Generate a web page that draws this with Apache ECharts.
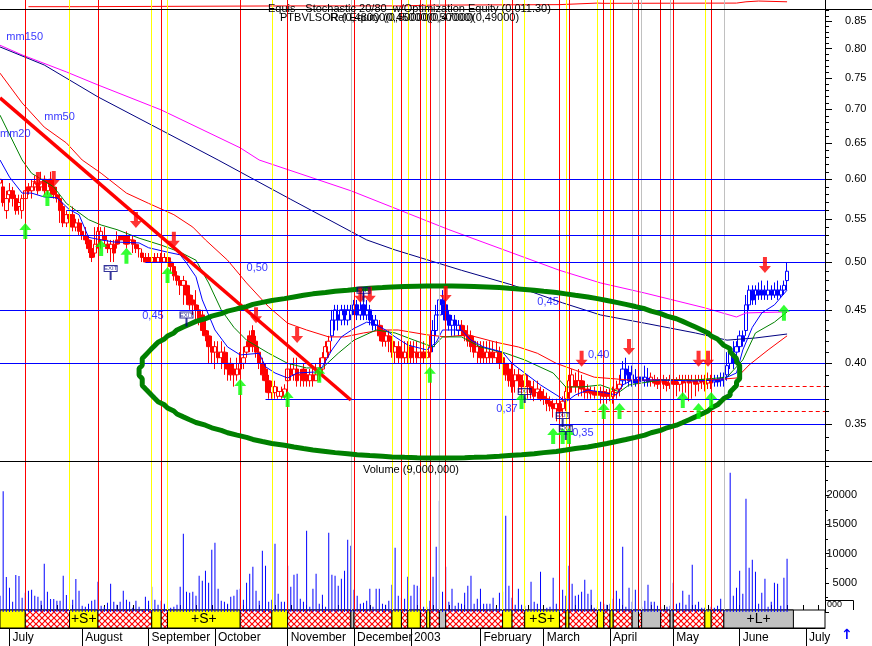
<!DOCTYPE html>
<html><head><meta charset="utf-8">
<script src="https://cdn.jsdelivr.net/npm/echarts@6/dist/echarts.min.js"></script>
<style>html,body{margin:0;padding:0;background:#fff}#c{width:872px;height:646px}</style>
</head><body><div id="c"></div>
<script>
// ---------------- DATA ----------------
const startDate = '2002-06-26';
const dayCount = 262;
const holidays = ['2002-08-15','2002-12-24','2002-12-25','2002-12-26','2002-12-31','2003-01-01','2003-04-18','2003-04-21','2003-05-01'];

const open = [.595,.590,.560,.580,.585,.575,.565,.560,.575,.590,.585,.590,.595,.590,.600,.585,.600,.590,.580,.575,
.565,.545,.555,.555,.540,.545,.535,.530,.525,.515,.510,.520,.525,.530,.520,.515,.520,.525,.530,.530,
.530,.525,.525,.520,.515,.510,.505,.505,.500,.505,.500,.505,.500,.505,.500,.495,.485,.480,.475,.475,
.465,.460,.455,.450,.445,.430,.425,.415,.410,.410,.405,.410,.400,.400,.395,.390,.395,.400,.410,.425,
.430,.420,.410,.400,.395,.385,.375,.375,.372,.372,.372,.385,.395,.390,.395,.390,.395,.390,.385,.390,
.385,.390,.395,.405,.410,.425,.440,.445,.440,.450,.440,.445,.450,.455,.445,.455,.445,.450,.440,.435,
.435,.430,.420,.425,.420,.410,.415,.410,.405,.410,.415,.410,.410,.405,.410,.405,.410,.415,.430,.445,
.460,.455,.445,.435,.440,.430,.435,.430,.425,.425,.420,.410,.415,.410,.405,.410,.410,.405,.410,.405,
.400,.395,.390,.385,.390,.385,.380,.385,.380,.378,.375,.376,.372,.370,.368,.366,.362,.366,.362,.370,
.375,.380,.385,.380,.385,.378,.378,.376,.376,.376,.375,.376,.375,.374,.372,.375,.378,.385,.395,.392,
.385,.386,.384,.388,.385,.387,.385,.386,.385,.384,.386,.384,.383,.386,.384,.382,.385,.384,.386,.384,
.385,.383,.386,.385,.383,.385,.384,.386,.385,.386,.390,.400,.405,.410,.415,.425,.430,.455,.470,.465,
.470,.470,.470,.465,.470,.465,.470,.465,.470,.480];
const close = [.600,.570,.575,.585,.575,.560,.570,.575,.585,.585,.590,.595,.585,.600,.585,.595,.590,.580,.575,.560,
.545,.555,.550,.540,.545,.535,.530,.525,.515,.505,.520,.535,.535,.525,.515,.520,.510,.520,.525,.525,
.520,.525,.520,.515,.515,.505,.500,.500,.505,.500,.505,.500,.505,.500,.495,.485,.480,.475,.480,.465,
.455,.455,.450,.440,.430,.425,.415,.410,.415,.405,.410,.400,.395,.390,.390,.395,.400,.405,.415,.415,
.415,.410,.400,.390,.385,.375,.380,.380,.376,.376,.378,.395,.390,.395,.385,.390,.385,.385,.390,.385,
.390,.395,.405,.415,.420,.440,.450,.440,.450,.445,.450,.450,.455,.445,.450,.445,.450,.440,.435,.440,
.425,.420,.425,.420,.410,.415,.405,.405,.410,.405,.405,.410,.405,.410,.405,.410,.415,.430,.445,.460,
.455,.440,.435,.440,.435,.435,.430,.425,.420,.415,.410,.415,.405,.405,.410,.405,.405,.410,.400,.400,
.390,.385,.380,.390,.385,.380,.390,.380,.375,.372,.378,.370,.370,.366,.364,.362,.366,.360,.368,.376,
.385,.390,.380,.385,.378,.375,.375,.374,.373,.373,.373,.372,.372,.372,.376,.378,.382,.395,.390,.385,
.390,.383,.388,.385,.388,.384,.388,.383,.382,.386,.382,.381,.386,.382,.382,.386,.383,.386,.383,.385,
.382,.386,.384,.382,.386,.383,.386,.384,.387,.388,.398,.410,.400,.415,.425,.420,.455,.470,.460,.470,
.465,.465,.465,.470,.465,.470,.465,.470,.475,.490];
const low = [.585,.565,.550,.570,.565,.555,.555,.550,.570,.580,.575,.585,.580,.585,.580,.580,.580,.575,.570,.545,
.540,.540,.545,.535,.535,.530,.525,.520,.510,.500,.505,.515,.515,.520,.510,.500,.500,.515,.520,.520,
.515,.520,.510,.510,.505,.500,.500,.500,.500,.500,.500,.500,.500,.495,.490,.480,.475,.465,.455,.455,
.450,.445,.440,.435,.425,.420,.400,.400,.395,.400,.395,.390,.385,.385,.380,.385,.390,.395,.405,.410,
.410,.405,.395,.385,.375,.370,.370,.370,.370,.370,.370,.380,.385,.385,.380,.380,.380,.380,.380,.380,
.385,.385,.390,.400,.405,.420,.430,.430,.435,.435,.435,.440,.445,.440,.440,.440,.440,.435,.430,.430,
.420,.415,.415,.410,.405,.400,.400,.400,.400,.400,.400,.400,.400,.400,.400,.400,.405,.410,.425,.440,
.445,.435,.430,.425,.425,.425,.425,.420,.415,.410,.405,.400,.400,.400,.400,.400,.400,.400,.395,.395,
.385,.380,.375,.375,.375,.370,.370,.370,.370,.368,.370,.368,.365,.360,.360,.355,.352,.352,.355,.360,
.370,.375,.375,.372,.372,.370,.370,.370,.370,.370,.366,.366,.366,.368,.366,.370,.372,.380,.382,.380,
.380,.380,.380,.380,.380,.380,.380,.380,.378,.378,.378,.376,.378,.376,.372,.376,.372,.375,.368,.370,
.372,.376,.378,.376,.378,.378,.380,.380,.380,.380,.385,.395,.395,.405,.410,.415,.425,.450,.455,.455,
.460,.460,.460,.460,.460,.462,.460,.462,.465,.470];
const high = [.615,.600,.585,.595,.590,.580,.580,.580,.600,.595,.600,.605,.605,.610,.605,.600,.610,.600,.590,.580,
.570,.560,.560,.565,.550,.550,.545,.540,.530,.525,.540,.540,.540,.540,.525,.525,.525,.535,.530,.530,
.535,.530,.530,.525,.520,.515,.510,.510,.510,.510,.510,.510,.510,.510,.505,.500,.490,.485,.485,.480,
.475,.465,.470,.455,.450,.440,.430,.425,.420,.420,.420,.415,.410,.405,.400,.405,.410,.415,.420,.430,
.435,.425,.415,.405,.400,.390,.385,.385,.380,.380,.382,.400,.400,.405,.405,.395,.400,.395,.395,.395,
.400,.405,.410,.420,.425,.450,.455,.455,.455,.455,.455,.455,.460,.460,.470,.470,.460,.455,.445,.445,
.440,.435,.430,.430,.425,.420,.420,.420,.420,.420,.420,.420,.420,.420,.420,.420,.425,.440,.455,.480,
.470,.460,.450,.445,.445,.440,.440,.435,.435,.430,.425,.420,.420,.420,.420,.420,.420,.420,.415,.410,
.400,.400,.400,.395,.395,.390,.395,.390,.385,.385,.385,.380,.378,.375,.372,.370,.370,.372,.372,.380,
.390,.395,.392,.395,.390,.385,.382,.380,.380,.380,.380,.380,.378,.378,.380,.385,.390,.402,.405,.398,
.398,.395,.405,.395,.398,.396,.392,.390,.388,.392,.390,.388,.390,.390,.388,.390,.390,.390,.390,.390,
.390,.390,.390,.390,.392,.390,.390,.390,.392,.392,.410,.415,.420,.420,.430,.430,.465,.475,.475,.475,
.478,.480,.475,.480,.475,.478,.480,.475,.480,.500];
const volume = [2779,20698,5975,4149,1752,6317,6146,2437,3293,3635,3806,2779,2608,1923,8257,3464,2208,2208,1923,1923,
6203,2893,1409,2094,5633,3635,1067,895,1409,1923,2094,5176,1067,895,1580,4833,1752,1238,1752,3635,
2094,1752,724,1923,895,382,2608,1923,4320,2094,1238,1923,1409,895,724,895,1238,4320,13393,3464,
3293,3464,2779,6203,5347,7059,5004,10654,11852,3977,1923,1752,1409,2608,2779,3806,3977,2094,5004,6545,
7744,3635,1923,10483,7915,1752,2094,11681,3121,1752,1752,7915,4320,6374,6545,2265,1752,13907,895,3977,
6545,1409,2950,895,13564,6374,6203,4491,5689,7059,12366,11339,3806,2779,1409,1580,1923,3977,895,3977,
3977,1409,1238,1923,4662,10996,2779,2437,2265,6031,2779,4662,4491,4149,895,895,1923,6031,11168,19043,
3464,7744,1752,3977,1067,1580,1409,3293,4491,6203,1409,2265,3977,1409,1409,1409,2437,724,3293,3464,
16475,4491,2437,1238,3977,1238,1067,382,5176,1752,1409,6888,382,724,895,5861,1409,1238,3806,2779,
7915,4833,2779,2950,3464,5518,3121,3806,724,895,1752,1409,1238,1409,2265,3635,2265,11168,895,4149,
1752,3806,2608,895,1923,4662,1752,1752,1067,895,382,895,1067,5004,1409,1580,3635,1238,2950,8086,
1238,1752,724,724,382,895,724,1067,2265,382,382,23836,2779,4149,7059,3121,19385,7572,8942,6888,
1409,3293,5689,895,1752,5004,4833,1067,5861,9113];
const blueSpans = [[105,119],[137,145],[197,205],[226,249]];

const maShort = [[0,.626],[3,.603],[7,.582],[10,.582],[14,.577],[18,.576],[22,.561],[25,.555],[28,.528],[32,.525],[36,.5226],[44,.5215],[47,.516],[53,.511],[57,.508],[59,.499],[62,.484],[64,.46],[68,.4305],[72,.4147],[76,.4075],[82,.409],[84,.397],[87,.3916],[91,.3873],[94,.3916],[100,.3925],[102,.397],[105,.412],[108,.424],[112,.432],[116,.438],[118,.437],[122,.4305],[125,.424],[129,.4165],[135,.412],[138,.419],[140,.4305],[146,.4305],[149,.421],[153,.4147],[159,.41],[162,.40],[166,.3916],[171,.3814],[177,.3715],[179,.3674],[182,.3731],[186,.3772],[190,.3756],[195,.3731],[197,.3814],[200,.3856],[209,.3856],[220,.3848],[228,.3856],[233,.3916],[235,.412],[238,.433],[241,.447],[245,.455],[249,.47]];
const ma20 = [[0,.691],[7,.626],[10,.608],[17,.59],[21,.569],[28,.549],[32,.5425],[37,.537],[44,.527],[51,.519],[57,.511],[62,.502],[66,.4775],[70,.45],[74,.433],[78,.421],[85,.409],[91,.40],[97,.396],[102,.396],[107,.409],[112,.421],[119,.4305],[125,.4277],[131,.421],[137,.4147],[140,.424],[146,.424],[152,.4147],[160,.409],[166,.403],[175,.3916],[179,.3797],[184,.3797],[190,.3814],[196,.3756],[199,.3814],[209,.3856],[220,.3856],[230,.388],[235,.403],[239,.4277],[245,.438],[249,.448]];
const ma50 = [[0,.758],[7,.7098],[14,.673],[21,.65],[26,.626],[32,.608],[40,.582],[47,.569],[55,.555],[61,.54],[65,.525],[72,.502],[78,.4775],[85,.453],[91,.437],[97,.4305],[104,.424],[109,.424],[115,.4277],[121,.4305],[126,.4305],[135,.426],[141,.424],[148,.426],[157,.419],[164,.4147],[170,.409],[176,.40],[182,.394],[188,.388],[199,.3856],[209,.3856],[225,.3856],[233,.3873],[237,.3986],[243,.412],[249,.425]];
const ma150 = [[0,.803],[14,.7717],[31,.7193],[48,.676],[69,.626],[92,.574],[116,.525],[125,.5135],[146,.491],[162,.4754],[178,.457],[190,.445],[204,.437],[220,.4277],[230,.421],[239,.423],[249,.4267]];
const ma200 = [[0,.806],[7,.789],[21,.76],[31,.7385],[51,.699],[76,.643],[82,.626],[111,.585],[142,.537],[177,.491],[190,.4775],[204,.467],[223,.452],[233,.443],[236,.447],[249,.448]];
const equity = [[9,1.06],[25,1.09],[91,1.09],[127,1.12],[136,1.14],[177,1.20],[189,1.19],[191,1.20],[233,1.25],[236,1.28],[240,1.25],[249,1.25]];

const redLines = [8,31,51,76,91,112,127,133,136,141,162,177,180,191,194,202,209,213,225];
const yellowLines = [22,48,53,86,124,129,135,159,166,179,189,193,223];
const grayLines = [111,139,200,203,212,229];
const stripEnd = 251;

const buyArrows = [[7.9,.545],[14.9,.586],[31.6,.525],[39.9,.516],[53.1,.4946],[76.2,.3865],[91.1,.3764],[100.9,.397],[136.3,.397],[164.8,.3747],[174.9,.3469],[178.1,.3469],[180.3,.3469],[191.4,.3666],[196.1,.3666],[216.1,.3756],[221.1,.3666],[225.2,.3756],[248,.455]];
const sellArrows = [[12,.5886],[16.8,.590],[43.3,.539],[54.7,.516],[80.7,.437],[94.3,.4184],[113.6,.457],[117,.457],[141.4,.458],[184.4,.397],[198.7,.4075],[220.5,.397],[224,.397],[241.7,.488]];
const exitFlags = [[35.1,.493],[59.2,.445],[114.5,.470],[166.4,.376],[177.5,.3566],[179,.3466]];

const levelPrices = [0.60,0.56,0.53,0.50,0.45,0.40,0.37,0.35];
const levelFrom   = [0,21,0,46,0,0,84,174];
const stopPrices = [0.38,0.36];
const stopFrom   = [234,185];
const trendLine = [[0,.7177],[111.4,.369]];
const ellipseCenter = [139.2,.3925];
const ellipseRadius = [94.9,.1894];

const noteText  = ['0,50','0,45','0,45','0,40','0,37','0,35','mm150','mm50','mm20'];
const noteIdx   = [77.5,45.2,170.2,185.7,156.6,181,1.6,13.6,0];
const notePrice = [.4935,.444,.458,.4075,.3618,.3431,.8208,.688,.663];

const priceLabels = [0.35,0.40,0.45,0.50,0.55,0.60,0.65,0.70,0.75,0.80,0.85];
const volumeLabels = [5000,10000,15000,20000];
const monthNames = ['','January','February','March','April','May','June','July','August','September','October','November','December'];

// ---------------- BUILD ----------------
const L = Math.log;
function buildDays(){
  const out=[]; const d=new Date(startDate+'T00:00:00Z');
  while(out.length<dayCount){
    const wd=d.getUTCDay(); const s=d.toISOString().slice(0,10);
    if(wd!==0&&wd!==6&&holidays.indexOf(s)<0) out.push(s);
    d.setUTCDate(d.getUTCDate()+1);
  }
  return out;
}
const days = buildDays();
const monthStart = i => i>0 && days[i].slice(5,7)!==days[i-1].slice(5,7);
const weekStart = i => i>0 && new Date(days[i]).getUTCDay() < new Date(days[i-1]).getUTCDay();
const isBlue = i => blueSpans.some(s=>i>=s[0]&&i<=s[1]);
function candles(blue){
  const out=[];
  for(let i=0;i<open.length;i++) if(isBlue(i)===blue) out.push([i,L(open[i]),L(close[i]),L(low[i]),L(high[i])]);
  return out;
}
const toLn = arr => arr.map(p=>[p[0],L(p[1])]);
const minorTicks=[]; for(let k=33;k<=87;k++) minorTicks.push(L(k/100));

function hatch(){
  const c=document.createElement('canvas'); c.width=6; c.height=6;
  const g=c.getContext('2d'); g.fillStyle='#fff'; g.fillRect(0,0,6,6);
  g.strokeStyle='#ff0000'; g.lineWidth=1.2; g.beginPath();
  g.moveTo(0,0); g.lineTo(6,6); g.moveTo(6,0); g.lineTo(0,6); g.stroke();
  return c;
}
const hatchPattern = {image: hatch(), repeat: 'repeat'};

const marks = [].concat(redLines.map(i=>[i,'r']), yellowLines.map(i=>[i,'y']), grayLines.map(i=>[i,'g'])).sort((a,b)=>a[0]-b[0]);
const segs=[]; let prev=[0,'y'];
marks.forEach(m=>{segs.push([prev[0],m[0],prev[1]]); prev=m;});
segs.push([prev[0],stripEnd,prev[1]]);
const stripAreas = segs.map(s=>{
  const color = s[2]==='r'?hatchPattern:(s[2]==='y'?'#ffff00':'#c0c0c0');
  const txt = (s[1]-s[0]>8 && s[2]!=='r') ? (s[2]==='y'?'+S+':'+L+') : '';
  return [{xAxis:s[0], itemStyle:{color:color,borderColor:'#000',borderWidth:1}, label:{show:!!txt, formatter:txt, position:'inside', color:'#000', fontSize:14, fontFamily:'Liberation Sans'}},{xAxis:s[1]}];
});

const vLines = [].concat(
  redLines.map(i=>({xAxis:i,lineStyle:{color:'#ff0000',width:1,type:'solid'}})),
  yellowLines.map(i=>({xAxis:i,lineStyle:{color:'#ffff00',width:1,type:'solid'}})),
  grayLines.map(i=>({xAxis:i,lineStyle:{color:'#c0c0c0',width:1,type:'solid'}}))
);
const hLines = [].concat(
  levelPrices.map((p,k)=>[{coord:[levelFrom[k],L(p)],lineStyle:{color:'#0000ff',width:1.2,type:'solid'}},{coord:[dayCount-1,L(p)]}]),
  stopPrices.map((p,k)=>[{coord:[stopFrom[k],L(p)],lineStyle:{color:'#ff0000',width:1,type:[4,3]}},{coord:[dayCount-1,L(p)]}])
);

const ellipsePts=[];
for(let k=0;k<=160;k++){const t=2*Math.PI*k/160; ellipsePts.push([ellipseCenter[0]+ellipseRadius[0]*Math.cos(t), L(ellipseCenter[1])+ellipseRadius[1]*Math.sin(t)]);}

const FONT='Liberation Sans';
const hiddenX = gi => ({type:'category',gridIndex:gi,data:days,boundaryGap:false,show:false});

const option = {
  animation:false,
  backgroundColor:'#fff',
  grid:[
    {left:0,width:825,top:0,height:9},
    {left:0,width:825,top:9,height:452},
    {left:0,width:825,top:461,height:151},
    {left:0,width:825,top:610,height:18,show:true,borderColor:'#000',borderWidth:1,backgroundColor:'transparent'},
    {left:0,width:825,top:0,height:610}
  ],
  xAxis:[
    hiddenX(0),hiddenX(1),hiddenX(2),
    {type:'category',gridIndex:3,data:days,boundaryGap:false,
      axisLine:{show:true,lineStyle:{color:'#000'}},
      axisTick:{show:true,interval:(i)=>monthStart(i),length:18,lineStyle:{color:'#000'}},
      axisLabel:{show:true,interval:(i)=>monthStart(i),hideOverlap:false,
        formatter:(v)=>{const m=+v.slice(5,7);return m===1?v.slice(0,4):monthNames[m];},
        align:'left',padding:[0,0,0,3],margin:4,color:'#000',fontSize:12,fontFamily:FONT}},
    {type:'category',gridIndex:3,data:days,boundaryGap:false,
      axisLine:{show:false},axisTick:{show:true,interval:(i)=>weekStart(i),length:5,lineStyle:{color:'#000'}},
      axisLabel:{show:false}},
    hiddenX(4)
  ],
  yAxis:[
    {type:'value',gridIndex:0,position:'right',min:0.97,max:1.32,axisLine:{show:true,lineStyle:{color:'#000'}},axisTick:{show:false},axisLabel:{show:false},splitLine:{show:false}},
    {type:'value',gridIndex:1,position:'right',min:L(0.3226),max:L(0.873),
      axisLine:{show:true,lineStyle:{color:'#000'}},splitLine:{show:false},
      axisTick:{show:true,customValues:minorTicks,length:4,lineStyle:{color:'#000'}},
      axisLabel:{customValues:priceLabels.map(L),formatter:(v)=>Math.exp(v).toFixed(2),margin:20,color:'#000',fontSize:11,fontFamily:FONT}},
    {type:'value',gridIndex:1,position:'right',min:L(0.3226),max:L(0.873),
      axisLine:{show:false},splitLine:{show:false},
      axisTick:{show:true,customValues:priceLabels.map(L),length:7,lineStyle:{color:'#000'}},
      axisLabel:{show:false}},
    {type:'value',gridIndex:2,position:'right',min:0,max:25860,interval:5000,
      axisLine:{show:true,lineStyle:{color:'#000'}},splitLine:{show:false},
      axisTick:{show:true,length:4,lineStyle:{color:'#000'}},
      minorTick:{show:true,splitNumber:2,length:3,lineStyle:{color:'#000'}},
      axisLabel:{formatter:(v)=>volumeLabels.indexOf(v)>=0?String(v):'',align:'right',margin:32,color:'#000',fontSize:11,fontFamily:FONT}},
    {type:'value',gridIndex:3,min:0,max:1,show:false},
    {type:'value',gridIndex:4,min:0,max:1,show:false}
  ],
  series:[
    {type:'line',name:'vlines',xAxisIndex:5,yAxisIndex:5,data:[[0,-1]],showSymbol:false,silent:true,z:1,
      markLine:{silent:true,symbol:['none','none'],label:{show:false},data:vLines}},
    {type:'line',name:'equity',xAxisIndex:0,yAxisIndex:0,data:equity,step:'end',showSymbol:false,silent:true,lineStyle:{color:'#ff0000',width:1},z:3},
    {type:'line',name:'levels',xAxisIndex:1,yAxisIndex:1,data:[[0,-5]],showSymbol:false,silent:true,z:2,
      markLine:{silent:true,symbol:['none','none'],label:{show:false},data:hLines}},
    {type:'candlestick',name:'red',xAxisIndex:1,yAxisIndex:1,data:candles(false),encode:{x:0,y:[1,2,3,4]},barWidth:4,silent:true,z:3,
      itemStyle:{color:'transparent',color0:'#ff0000',borderColor:'#ff0000',borderColor0:'#ff0000',borderWidth:1}},
    {type:'candlestick',name:'blue',xAxisIndex:1,yAxisIndex:1,data:candles(true),encode:{x:0,y:[1,2,3,4]},barWidth:4,silent:true,z:3,
      itemStyle:{color:'transparent',color0:'#0000ff',borderColor:'#0000ff',borderColor0:'#0000ff',borderWidth:1}},
    {type:'line',name:'mm200',xAxisIndex:1,yAxisIndex:1,data:toLn(ma200),showSymbol:false,silent:true,lineStyle:{color:'#ff00ff',width:1},z:4},
    {type:'line',name:'mm150',xAxisIndex:1,yAxisIndex:1,data:toLn(ma150),showSymbol:false,silent:true,lineStyle:{color:'#000080',width:1},z:4},
    {type:'line',name:'mm50',xAxisIndex:1,yAxisIndex:1,data:toLn(ma50),showSymbol:false,silent:true,lineStyle:{color:'#ff0000',width:1},z:4},
    {type:'line',name:'mm20',xAxisIndex:1,yAxisIndex:1,data:toLn(ma20),showSymbol:false,silent:true,lineStyle:{color:'#008000',width:1},z:4},
    {type:'line',name:'mmShort',xAxisIndex:1,yAxisIndex:1,data:toLn(maShort),showSymbol:false,silent:true,lineStyle:{color:'#0000ff',width:1},z:4},
    {type:'line',name:'trend',xAxisIndex:1,yAxisIndex:1,data:toLn(trendLine),showSymbol:false,silent:true,lineStyle:{color:'#ff0000',width:3.5},z:5},
    {type:'line',name:'ellipse',xAxisIndex:1,yAxisIndex:1,data:ellipsePts,showSymbol:false,silent:true,smooth:false,lineStyle:{color:'#008000',width:5},z:6},
    {type:'scatter',name:'buy',xAxisIndex:1,yAxisIndex:1,data:toLn(buyArrows),silent:true,z:7,
      symbol:'path://M6,0 L12,7 L8,7 L8,16 L4,16 L4,7 L0,7 Z',symbolSize:[12,16],symbolOffset:[0,8],itemStyle:{color:'#00ff00'}},
    {type:'scatter',name:'sell',xAxisIndex:1,yAxisIndex:1,data:toLn(sellArrows),silent:true,z:7,
      symbol:'path://M4,0 L8,0 L8,9 L12,9 L6,16 L0,9 L4,9 Z',symbolSize:[12,16],symbolOffset:[0,-8],itemStyle:{color:'#ff0000'}},
    {type:'scatter',name:'exit',xAxisIndex:1,yAxisIndex:1,data:toLn(exitFlags),silent:true,z:7,
      symbol:'path://M0,0 H14 V7 H0 Z M1,1 V6 H13 V1 Z M6,7 H8 V15 H6 Z',symbolSize:[14,15],symbolOffset:[0,4],itemStyle:{color:'#000080'},
      label:{show:true,formatter:'EXIT',position:'inside',offset:[0,-4],fontSize:6,color:'#000080',fontFamily:FONT}},
    {type:'scatter',name:'notes',xAxisIndex:1,yAxisIndex:1,silent:true,z:8,symbolSize:0,
      data:noteText.map((t,k)=>({value:[noteIdx[k],L(notePrice[k])],label:{formatter:t}})),
      label:{show:true,position:[0,0],align:'left',verticalAlign:'middle',color:'#0000ff',fontSize:11,fontFamily:FONT}},
    {type:'bar',name:'volume',xAxisIndex:2,yAxisIndex:3,data:volume,barWidth:1,silent:true,itemStyle:{color:'#0000ff'},z:3},
    {type:'line',name:'strip',xAxisIndex:3,yAxisIndex:4,data:[[0,-1]],showSymbol:false,silent:true,z:6,
      markArea:{silent:true,data:stripAreas}}
  ],
  graphic:[
    {type:'line',shape:{x1:0,y1:9.5,x2:872,y2:9.5},style:{stroke:'#000',lineWidth:1},z:50},
    {type:'line',shape:{x1:0,y1:461.5,x2:872,y2:461.5},style:{stroke:'#000',lineWidth:1},z:50},
    {type:'text',left:268,top:3,style:{text:'Equis - Stochastic 20/80  w/Optimization Equity (0,011.30)',fill:'#000',font:'11px Liberation Sans'},z:50},
    {type:'text',left:280,top:12,style:{text:'PTBVLSOR (0,48000(0,50000(0,47000(0,49000)',fill:'#000',font:'11px Liberation Sans'},z:50},
    {type:'text',left:330,top:12,style:{text:'Rel Equity (0,45000(0,50000)',fill:'#000',font:'11px Liberation Sans'},z:50},
    {type:'text',left:363,top:464,style:{text:'Volume (9,000,000)',fill:'#000',font:'11px Liberation Sans'},z:50},
    {type:'text',left:827,top:600,style:{text:'000',fill:'#000',font:'9px Liberation Sans'},z:50},
    {type:'polyline',shape:{points:[[825,600.5],[853.5,600.5],[853.5,610]]},style:{stroke:'#000',fill:null,lineWidth:1},z:50},
    {type:'text',left:841,top:628,style:{text:'\u2191',fill:'#0000ff',font:'bold 14px DejaVu Sans'},z:50}
  ]
};
echarts.init(document.getElementById('c')).setOption(option);
</script></body></html>
